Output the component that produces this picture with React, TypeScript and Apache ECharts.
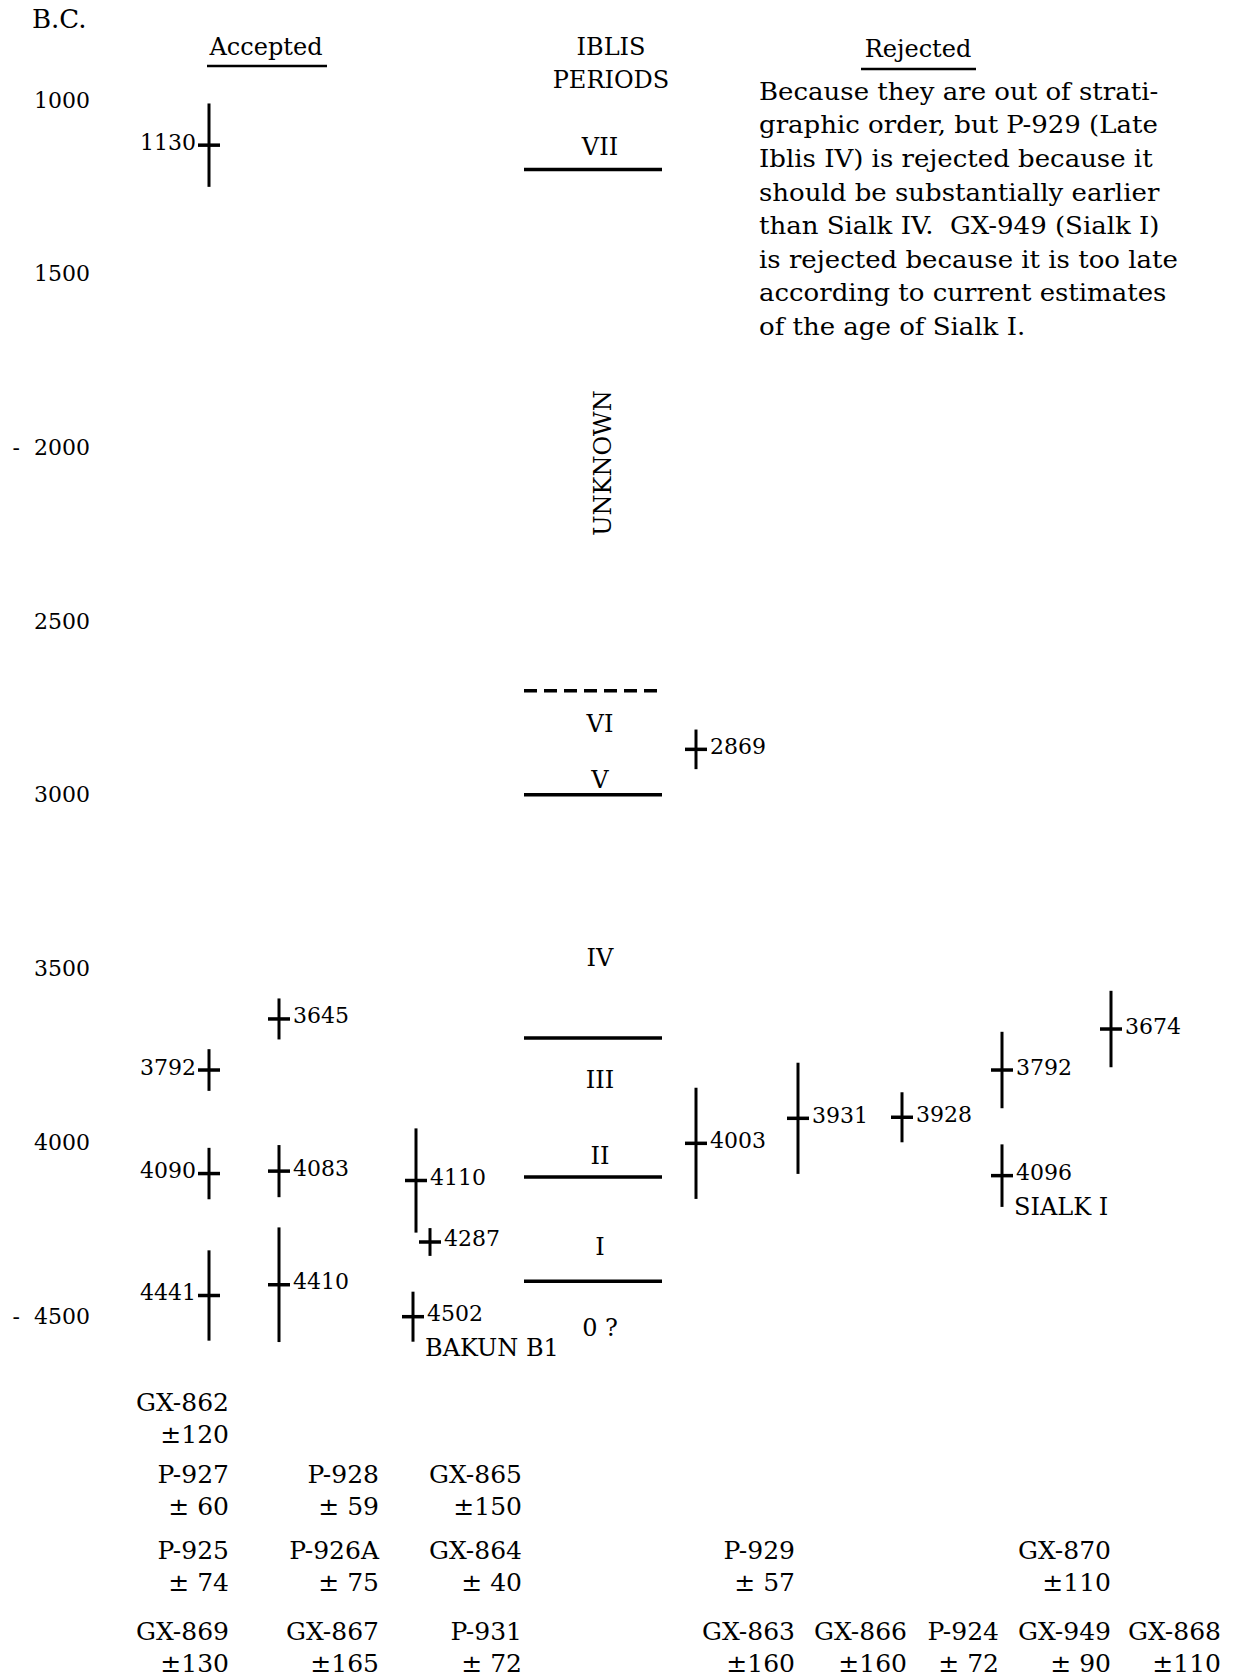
import React, { useEffect, useRef } from "react";
import * as echarts from "echarts";

// ---------------- DATA ----------------
const yTicks = [1000, 1500, 2000, 2500, 3000, 3500, 4000, 4500];
const yTickLabels = ["1000", "1500", "-\u00a0\u00a02000", "2500", "3000", "3500", "4000", "-\u00a0\u00a04500"];

const sampleIds = [
  "GX-862", "P-927", "P-925", "GX-869",
  "P-928", "P-926A", "GX-867",
  "GX-865", "GX-864", "P-931",
  "P-929", "GX-863", "GX-866", "P-924", "GX-870", "GX-949", "GX-868",
];
const sampleDates = [1130, 3792, 4090, 4441, 3645, 4083, 4410, 4110, 4287, 4502, 2869, 4003, 3931, 3928, 3792, 4096, 3674];
const sampleErrors = [120, 60, 74, 130, 59, 75, 165, 150, 40, 72, 57, 160, 160, 72, 110, 90, 110];
const sampleStatus = [
  "Accepted", "Accepted", "Accepted", "Accepted", "Accepted", "Accepted", "Accepted", "Accepted", "Accepted", "Accepted",
  "Rejected", "Rejected", "Rejected", "Rejected", "Rejected", "Rejected", "Rejected",
];
const sampleColumn = [0, 0, 0, 0, 1, 1, 1, 2, 2, 2, 3, 3, 4, 5, 6, 6, 7];
const sampleNotes = ["", "", "", "", "", "", "", "", "", "BAKUN B1", "", "", "", "", "", "SIALK I", ""];

const periodNames = ["VII", "VI", "V", "IV", "III", "II", "I", "0 ?"];
const periodLabelYears = [1135, 2796, 2957, 3470, 3821, 4040, 4302, 4535];
const periodBoundaries = [1200, 2700, 3000, 3700, 4100, 4400];
const boundaryDashed = [false, true, false, false, false, false];

const noteLines = [
  "Because they are out of strati-",
  "graphic order, but P-929 (Late",
  "Iblis IV) is rejected because it",
  "should be substantially earlier",
  "than Sialk IV.  GX-949 (Sialk I)",
  "is rejected because it is too late",
  "according to current estimates",
  "of the age of Sialk I.",
];

// ---------------- LAYOUT ----------------
const W = 1241;
const H = 1680;
const GRID_LEFT = 96;
const GRID_TOP = 100;
const GRID_BOTTOM = 364;
const COL_X = [209, 279, 416, 696, 798, 902, 1002, 1111];
const X_NUDGE: Record<string, number> = { "GX-864": 14, "P-931": -3 };
const LEFT_LABEL_COLUMNS = [0];
const CAT_RIGHT = [229, 379, 522, 795, 907, 999, 1111, 1221];
const CAT_ROWS = [1402, 1474, 1550, 1631];
const CAT_LINE_GAP = 32;
const PERIOD_LINE_X0 = 524;
const PERIOD_LINE_X1 = 662;
const PERIOD_LABEL_X = 600;
const FONT = "'DejaVu Serif', serif";
const NUM_SIZE = 22;
const WORD_SIZE = 24;
const BIG_SIZE = 25;

export default function App() {
  const ref = useRef<HTMLDivElement>(null);

  useEffect(() => {
    if (!ref.current) return;
    const chart = echarts.init(ref.current, undefined, { renderer: "svg", width: W, height: H });

    const barData = sampleIds.map((id, i) => [
      COL_X[sampleColumn[i]] + (X_NUDGE[id] || 0),
      sampleDates[i],
      sampleErrors[i],
      i,
    ]);

    const boundaryData = periodBoundaries.map((y, i) => [PERIOD_LINE_X0, y, boundaryDashed[i] ? 1 : 0]);
    const periodLabelData = periodNames.map((n, i) => [PERIOD_LABEL_X, periodLabelYears[i], i]);

    // catalogue labels below chart
    const catalogue: any[] = [];
    sampleIds.forEach((id, i) => {
      const col = sampleColumn[i];
      const later = sampleDates.filter((d, j) => sampleColumn[j] === col && d > sampleDates[i]).length;
      const row = 3 - later;
      const y = CAT_ROWS[row];
      const x = CAT_RIGHT[col];
      const err = sampleErrors[i];
      catalogue.push({
        type: "text",
        x,
        y,
        style: { text: id, fill: "#000", fontSize: BIG_SIZE, fontFamily: FONT, align: "right", verticalAlign: "middle" },
      });
      catalogue.push({
        type: "text",
        x,
        y: y + CAT_LINE_GAP,
        style: {
          text: (err >= 100 ? "±" : "± ") + err,
          fill: "#000",
          fontSize: BIG_SIZE,
          fontFamily: FONT,
          align: "right",
          verticalAlign: "middle",
        },
      });
    });

    const noteTexts = noteLines.map((t, i) => ({
      type: "text",
      x: 759,
      y: 91 + i * 33.6,
      scaleX: 1.04,
      style: { text: t, fill: "#000", fontSize: BIG_SIZE, fontFamily: FONT, align: "left", verticalAlign: "middle" },
    }));

    const option: any = {
      animation: false,
      backgroundColor: "#fff",
      grid: { left: GRID_LEFT, right: 0, top: GRID_TOP, bottom: GRID_BOTTOM },
      xAxis: { type: "value", min: GRID_LEFT, max: W, show: false },
      yAxis: {
        type: "value",
        inverse: true,
        min: 1000,
        max: 4500,
        interval: 500,
        axisLine: { show: false },
        axisTick: { show: false },
        splitLine: { show: false },
        axisLabel: {
          margin: 6,
          color: "#000",
          fontFamily: FONT,
          fontSize: NUM_SIZE,
          formatter: (v: number) => {
            const k = yTicks.indexOf(v);
            return k >= 0 ? yTickLabels[k] : "";
          },
        },
      },
      graphic: [
        { type: "text", x: 32, y: 19, style: { text: "B.C.", fill: "#000", fontSize: 26, fontFamily: FONT, align: "left", verticalAlign: "middle" } },
        { type: "text", x: 266, y: 47, style: { text: "Accepted", fill: "#000", fontSize: WORD_SIZE, fontFamily: FONT, align: "center", verticalAlign: "middle" } },
        { type: "line", shape: { x1: 207, y1: 66, x2: 327, y2: 66 }, style: { stroke: "#000", lineWidth: 2.5 } },
        { type: "text", x: 611, y: 47, style: { text: "IBLIS", fill: "#000", fontSize: WORD_SIZE, fontFamily: FONT, align: "center", verticalAlign: "middle" } },
        { type: "text", x: 611, y: 80, style: { text: "PERIODS", fill: "#000", fontSize: WORD_SIZE, fontFamily: FONT, align: "center", verticalAlign: "middle" } },
        { type: "text", x: 918, y: 49, style: { text: "Rejected", fill: "#000", fontSize: WORD_SIZE, fontFamily: FONT, align: "center", verticalAlign: "middle" } },
        { type: "line", shape: { x1: 861, y1: 69, x2: 976, y2: 69 }, style: { stroke: "#000", lineWidth: 2.5 } },
        { type: "text", x: 603, y: 463, rotation: Math.PI / 2, style: { text: "UNKNOWN", fill: "#000", fontSize: WORD_SIZE, fontFamily: FONT, align: "center", verticalAlign: "middle" } },
        ...noteTexts,
        ...catalogue,
      ],
      series: [
        {
          type: "custom",
          name: "Radiocarbon dates",
          clip: false,
          data: barData,
          encode: { x: 0, y: 1 },
          renderItem: (params: any, api: any) => {
            const x = api.value(0);
            const d = api.value(1);
            const e = api.value(2);
            const i = api.value(3);
            const c = api.coord([x, d]);
            const t = api.coord([x, d - e]);
            const b = api.coord([x, d + e]);
            const leftSide = LEFT_LABEL_COLUMNS.indexOf(sampleColumn[i]) >= 0;
            const children: any[] = [
              { type: "line", shape: { x1: c[0], y1: t[1], x2: c[0], y2: b[1] }, style: { stroke: "#000", lineWidth: 3 } },
              { type: "line", shape: { x1: c[0] - 11, y1: c[1], x2: c[0] + 11, y2: c[1] }, style: { stroke: "#000", lineWidth: 3.5 } },
              {
                type: "text",
                x: leftSide ? c[0] - 13 : c[0] + 14,
                y: c[1] - 3,
                style: {
                  text: String(d),
                  fill: "#000",
                  fontSize: NUM_SIZE,
                  fontFamily: FONT,
                  align: leftSide ? "right" : "left",
                  verticalAlign: "middle",
                },
              },
            ];
            if (sampleNotes[i]) {
              children.push({
                type: "text",
                x: c[0] + 12,
                y: c[1] + 31,
                style: { text: sampleNotes[i], fill: "#000", fontSize: WORD_SIZE, fontFamily: FONT, align: "left", verticalAlign: "middle" },
              });
            }
            return { type: "group", children };
          },
        },
        {
          type: "custom",
          name: "Period boundaries",
          clip: false,
          data: boundaryData,
          encode: { x: 0, y: 1 },
          renderItem: (params: any, api: any) => {
            const y = api.value(1);
            const dashed = api.value(2) === 1;
            const p0 = api.coord([PERIOD_LINE_X0, y]);
            const p1 = api.coord([PERIOD_LINE_X1, y]);
            return {
              type: "line",
              shape: { x1: p0[0], y1: p0[1], x2: p1[0], y2: p1[1] },
              style: { stroke: "#000", lineWidth: 3.5, lineDash: dashed ? [13, 7] : null },
            };
          },
        },
        {
          type: "custom",
          name: "Period labels",
          clip: false,
          data: periodLabelData,
          encode: { x: 0, y: 1 },
          renderItem: (params: any, api: any) => {
            const c = api.coord([api.value(0), api.value(1)]);
            const k = api.value(2);
            return {
              type: "text",
              x: c[0],
              y: c[1],
              style: { text: periodNames[k], fill: "#000", fontSize: WORD_SIZE, fontFamily: FONT, align: "center", verticalAlign: "middle" },
            };
          },
        },
      ],
    };

    chart.setOption(option);
    return () => chart.dispose();
  }, []);

  return (
    <div
      ref={ref}
      style={{ position: "fixed", left: 0, top: 0, width: W, height: H, background: "#fff" }}
    />
  );
}
